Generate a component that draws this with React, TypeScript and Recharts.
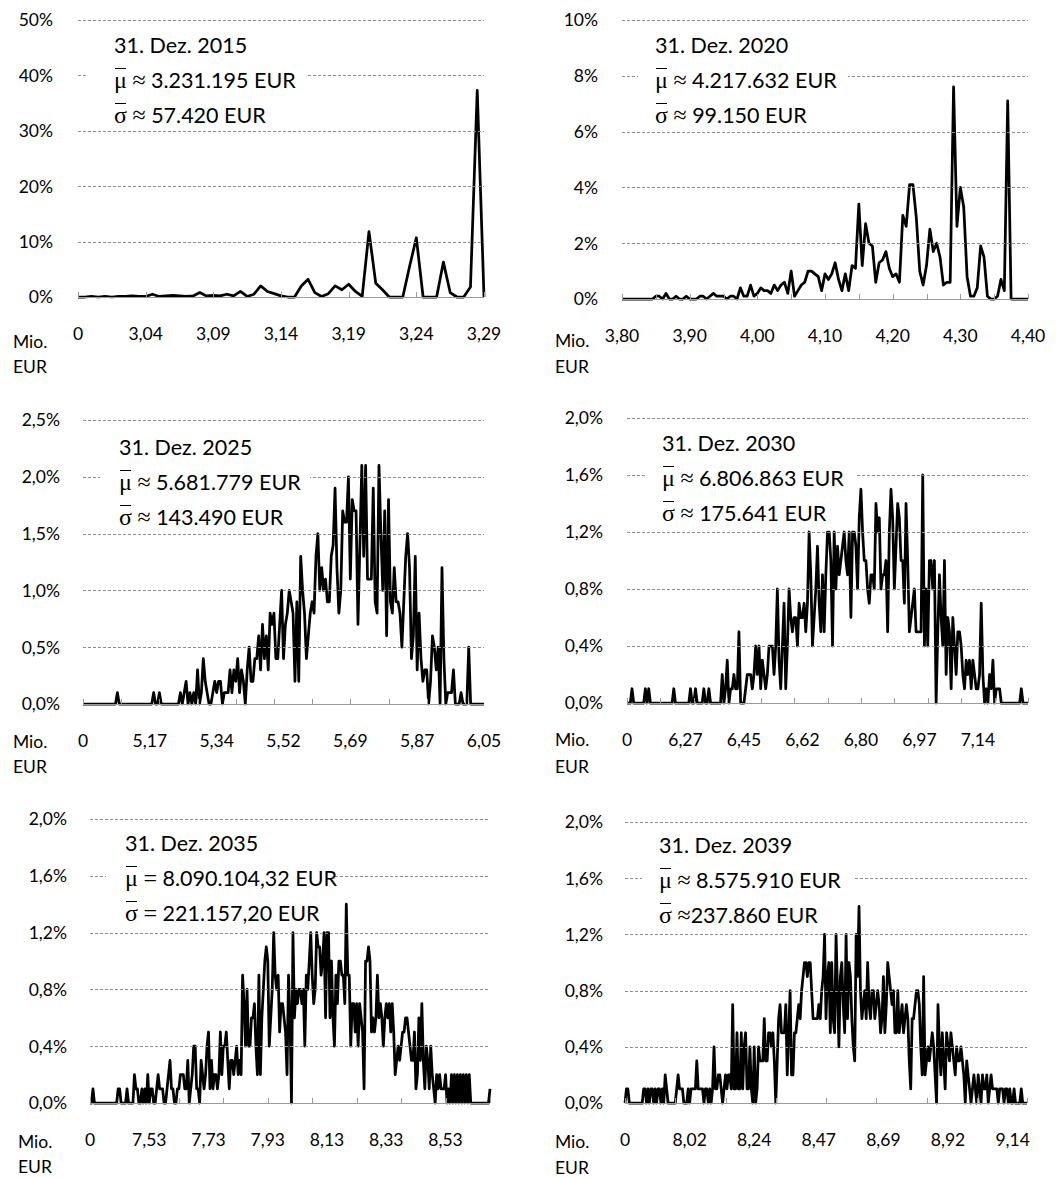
import * as React from "react";
import { Line, LineChart, XAxis, YAxis } from "recharts";

const TEXT_FONT = "Lato, 'Open Sans', sans-serif";
const MATH_FONT = "'Liberation Serif', 'DejaVu Serif', serif";
const GRID_COLOR = "#8c8c8c";
const AXIS_COLOR = "#9a9a9a";

// share of simulation runs per wealth bin, in percent
const share2015 = [
  0, 0, 0.1, 0, 0.1, 0, 0.1, 0.1, 0.2, 0.1,
  0.1, 0.5, 0.1, 0.2, 0.3, 0.2, 0.1, 0.2, 0.8, 0.2,
  0.3, 0.2, 0.5, 0.2, 1.0, 0.1, 0.5, 2.0, 1.0, 0.6,
  0.2, 0, 0, 2.0, 3.2, 0.8, 0.1, 0.6, 2.0, 1.3,
  2.3, 1.0, 0.1, 11.8, 2.5, 1.3, 0, 0, 0, 5.5,
  10.7, 0, 0, 0, 6.3, 0.8, 0, 0, 1.8, 37.3,
  0,
];

const share2020 = [
  0, 0, 0, 0, 0, 0, 0, 0, 0, 0,
  0.1, 0.1, 0, 0.2, 0, 0, 0.1, 0, 0, 0.1,
  0, 0, 0, 0.1, 0.1, 0, 0.1, 0.2, 0.1, 0.1,
  0.1, 0, 0.1, 0.1, 0, 0.4, 0.1, 0.1, 0.5, 0.1,
  0.2, 0.4, 0.3, 0.3, 0.2, 0.5, 0.3, 0.5, 0.6, 0.2,
  1.0, 0.1, 0.3, 0.5, 0.6, 1.0, 1.0, 0.9, 0.8, 0.3,
  0.9, 0.7, 0.9, 1.3, 0.7, 0.3, 0.9, 0.3, 1.2, 1.1,
  3.4, 1.2, 2.7, 2.0, 1.9, 0.6, 1.3, 1.4, 1.7, 1.1,
  0.8, 0.9, 0.6, 3.0, 2.6, 4.1, 4.1, 2.9, 1.0, 0.5,
  1.2, 2.5, 1.7, 2.0, 1.5, 0.5, 0.6, 0.6, 7.6, 2.6,
  4.0, 3.3, 0.8, 0.1, 0.1, 0.4, 1.9, 1.5, 0.1, 0,
  0, 0.1, 0.7, 0.3, 7.1, 0, 0, 0, 0, 0,
  0,
];

const share2025 = [
  0, 0, 0, 0, 0, 0, 0, 0, 0, 0,
  0, 0, 0, 0, 0, 0, 0, 0, 0.1, 0,
  0, 0, 0, 0, 0, 0, 0, 0, 0, 0,
  0, 0, 0, 0, 0, 0, 0, 0.1, 0, 0,
  0.1, 0, 0, 0, 0, 0, 0, 0, 0, 0,
  0, 0.1, 0, 0.1, 0.2, 0, 0.1, 0, 0.1, 0,
  0.3, 0, 0.1, 0.4, 0.2, 0.1, 0, 0, 0.1, 0.2,
  0.1, 0.2, 0.2, 0, 0.1, 0.1, 0.1, 0.3, 0.1, 0.3,
  0.2, 0.4, 0.1, 0.3, 0.2, 0, 0.3, 0.5, 0.2, 0.2,
  0.4, 0.4, 0.6, 0.3, 0.7, 0.4, 0.6, 0.3, 0.8, 0.7,
  0.8, 0.4, 0.4, 0.7, 1.0, 0.4, 0.7, 0.8, 1.0, 0.9,
  0.8, 0.2, 0.9, 0.2, 1.3, 1.0, 0.8, 0.4, 0.6, 0.8,
  0.9, 0.8, 1.3, 1.5, 1.0, 1.2, 1.0, 1.1, 0.9, 0.9,
  1.3, 1.4, 1.9, 1.2, 0.8, 1.0, 1.7, 1.6, 1.6, 2.0,
  1.1, 1.8, 1.7, 1.7, 0.7, 1.4, 2.1, 1.3, 2.1, 1.1,
  1.1, 1.1, 1.9, 0.9, 0.8, 2.1, 1.5, 1.0, 1.7, 0.6,
  1.8, 0.9, 0.8, 1.2, 0.9, 0.9, 0.8, 0.5, 0.9, 1.3,
  1.5, 1.2, 0.4, 0.6, 1.3, 0.3, 0.8, 0.4, 0.2, 0.3,
  0.3, 0, 0.2, 0.6, 0.5, 0.3, 0.5, 0, 1.2, 0.4,
  0, 0.1, 0.1, 0.1, 0.3, 0, 0, 0, 0.1, 0,
  0, 0, 0.5, 0, 0, 0, 0, 0, 0, 0,
  0,
];

const share2030 = [
  0, 0, 0, 0.1, 0, 0, 0, 0, 0, 0,
  0, 0.1, 0, 0.1, 0, 0, 0, 0, 0, 0,
  0, 0, 0, 0, 0, 0, 0, 0, 0.1, 0,
  0, 0, 0, 0, 0, 0, 0, 0, 0.1, 0,
  0, 0.1, 0, 0, 0, 0, 0.1, 0, 0, 0.1,
  0, 0, 0, 0, 0, 0, 0, 0.2, 0, 0.1,
  0.3, 0, 0.1, 0.1, 0.2, 0.1, 0.1, 0.5, 0, 0,
  0, 0.1, 0.2, 0.2, 0.2, 0.1, 0.2, 0.4, 0.2, 0.4,
  0.1, 0.3, 0.2, 0.1, 0.2, 0.4, 0.4, 0.4, 0.2, 0.4,
  0.8, 0.3, 0.1, 0.4, 0.7, 0.1, 0.4, 0.8, 0.6, 0.5,
  0.6, 0.6, 0.4, 0.7, 0.6, 0.6, 0.7, 0.5, 0.7, 1.2,
  0.9, 0.4, 0.6, 0.8, 1.1, 0.7, 0.5, 0.9, 0.5, 0.9,
  1.2, 1.2, 1.0, 0.4, 1.2, 0.8, 1.1, 0.9, 1.0, 1.1,
  1.2, 1.0, 0.9, 1.2, 0.6, 1.2, 1.2, 1.1, 0.8, 1.3,
  1.5, 1.2, 1.0, 1.0, 0.8, 0.7, 0.9, 0.9, 0.8, 1.4,
  1.2, 1.3, 0.8, 0.9, 0.9, 1.0, 0.5, 1.2, 1.5, 1.3,
  0.8, 1.1, 1.4, 1.3, 1.0, 1.0, 0.7, 1.4, 1.0, 0.5,
  0.6, 0.7, 0.8, 0.5, 0.5, 0.5, 0.5, 1.6, 0.4, 0.8,
  0.4, 1.0, 1.0, 0.8, 1.0, 0, 0.5, 0.9, 0.6, 0.4,
  1.0, 0.2, 0.6, 0.5, 0.1, 0.6, 0.4, 0.2, 0.5, 0.5,
  0.4, 0.2, 0.1, 0.3, 0.2, 0.3, 0.1, 0.3, 0.2, 0.1,
  0.1, 0.2, 0.7, 0.2, 0, 0.1, 0, 0.2, 0.1, 0.3,
  0, 0.1, 0.1, 0.1, 0, 0, 0, 0, 0, 0,
  0, 0, 0, 0, 0, 0, 0.1, 0, 0, 0,
  0,
];

const share2035 = [
  0, 0, 0.1, 0, 0, 0, 0, 0, 0, 0,
  0, 0, 0, 0, 0, 0, 0, 0, 0, 0.1,
  0.1, 0, 0, 0, 0, 0.1, 0, 0, 0, 0,
  0.2, 0.1, 0.1, 0, 0, 0.1, 0, 0.1, 0, 0.2,
  0, 0.1, 0.1, 0, 0, 0.1, 0.2, 0.1, 0.1, 0.1,
  0, 0, 0.1, 0.2, 0.3, 0.1, 0.1, 0, 0, 0.1,
  0.1, 0.2, 0.2, 0.2, 0.1, 0.1, 0.3, 0, 0.1, 0.2,
  0.4, 0.4, 0.1, 0.1, 0, 0.3, 0.2, 0.1, 0.2, 0.4,
  0.5, 0.1, 0.3, 0.1, 0.2, 0.2, 0.1, 0.2, 0.5, 0.2,
  0.4, 0.4, 0.5, 0.3, 0.1, 0.3, 0.3, 0.2, 0.3, 0.4,
  0.2, 0.3, 0.2, 0.9, 0.7, 0.4, 0.8, 0.4, 0.4, 0.6,
  0.6, 0.7, 0.4, 0.2, 0.9, 0.2, 0.6, 0.8, 1.0, 1.1,
  1.0, 0.4, 0.6, 0.8, 1.2, 0.9, 0.8, 0.9, 0.5, 0.7,
  0.7, 0.6, 0.5, 0.2, 0.9, 0.6, 0, 1.2, 0.6, 0.8,
  0.7, 0.8, 0.8, 0.7, 0.8, 0.4, 0.9, 0.8, 1.0, 1.2,
  0.9, 0.7, 0.8, 1.2, 1.1, 1.1, 0.9, 1.0, 1.2, 0.6,
  1.2, 1.2, 0.6, 1.0, 0.6, 0.4, 0.9, 0.7, 1.0, 1.0,
  0.9, 0.9, 0.7, 1.4, 0.9, 0.9, 0.4, 0.7, 0.7, 0.5,
  0.7, 0.4, 0.7, 0.6, 0.5, 0.1, 1.0, 1.0, 1.1, 1.0,
  0.5, 0.6, 0.5, 0.6, 0.9, 0.6, 0.7, 0.6, 0.4, 0.6,
  0.7, 0.6, 0.7, 0.5, 0.7, 0.5, 0.2, 0.3, 0.4, 0.3,
  0.4, 0.5, 0.5, 0.6, 0.6, 0.5, 0.4, 0.3, 0.3, 0.5,
  0.1, 0.2, 0.6, 0.3, 0.7, 0.3, 0.1, 0.4, 0.3, 0.1,
  0.4, 0.2, 0.1, 0, 0.2, 0.1, 0.2, 0.1, 0.1, 0.1,
  0.2, 0, 0.1, 0, 0.2, 0, 0.2, 0, 0.2, 0,
  0.2, 0, 0.2, 0, 0.2, 0, 0.2, 0, 0, 0,
  0, 0, 0, 0, 0, 0, 0, 0, 0, 0,
  0.1,
];

const share2039 = [
  0, 0.1, 0.1, 0, 0, 0, 0, 0, 0, 0,
  0, 0, 0, 0.1, 0.1, 0, 0.1, 0, 0.1, 0.1,
  0, 0.1, 0, 0.1, 0.1, 0, 0.1, 0, 0.2, 0.1,
  0, 0, 0, 0, 0, 0, 0.1, 0.2, 0.1, 0.1,
  0.1, 0, 0, 0, 0.1, 0, 0.1, 0.1, 0.1, 0.1,
  0.3, 0.1, 0.1, 0.1, 0.1, 0, 0.1, 0.1, 0, 0.1,
  0, 0.1, 0.4, 0.1, 0.1, 0.2, 0.2, 0.1, 0, 0.1,
  0.2, 0.1, 0.2, 0.2, 0.1, 0.7, 0.1, 0.1, 0.5, 0.1,
  0.1, 0.5, 0.1, 0.4, 0.5, 0.1, 0.1, 0.4, 0.1, 0,
  0.4, 0, 0.1, 0.4, 0.3, 0.3, 0.3, 0.6, 0.3, 0.3,
  0.5, 0.5, 0.4, 0.5, 0.3, 0, 0.3, 0.6, 0.7, 0.5,
  0.5, 0.5, 0.7, 0.2, 0.5, 0.8, 0.2, 0.2, 0.5, 0.5,
  0.6, 0.7, 0.6, 0.8, 0.9, 1.0, 1.0, 0.9, 1.0, 1.0,
  0.8, 0.6, 0.6, 0.6, 0.6, 0.7, 0.6, 0.8, 0.9, 1.2,
  0.6, 0.9, 1.0, 0.5, 1.0, 0.6, 0.5, 1.2, 0.8, 0.4,
  0.9, 1.0, 0.7, 0.5, 1.2, 0.6, 1.0, 0.9, 0.6, 0.4,
  0.3, 1.2, 0.9, 1.4, 0.8, 0.6, 0.7, 0.8, 0.6, 1.0,
  0.7, 0.6, 0.8, 0.8, 0.6, 0.7, 0.8, 0.7, 0.5, 0.6,
  0.9, 0.5, 0.7, 1.0, 0.9, 0.8, 0.7, 0.8, 0.5, 0.5,
  0.8, 0.5, 0.6, 0.7, 0.5, 0.6, 0.7, 0.6, 0.3, 0.1,
  0.6, 0.6, 0.7, 0.8, 0.8, 0.7, 0.4, 0.2, 0.9, 0.2,
  0.3, 0.4, 0.3, 0.4, 0.5, 0.4, 0.2, 0, 0.7, 0.4,
  0.2, 0.5, 0.3, 0.1, 0.5, 0.4, 0.3, 0.5, 0.4, 0.3,
  0.2, 0.4, 0.3, 0.3, 0.4, 0.3, 0.2, 0, 0.3, 0.2,
  0.1, 0, 0.1, 0.2, 0.1, 0, 0.2, 0.1, 0, 0.2,
  0.1, 0.1, 0.2, 0, 0.1, 0.2, 0.1, 0.1, 0.1, 0.1,
  0, 0.1, 0.1, 0.1, 0, 0.1, 0.1, 0, 0.1, 0,
  0, 0.1, 0, 0, 0, 0, 0.1, 0, 0, 0,
  0,
];

// x axis labels (Mio. EUR), one every `labelEvery` bins
const axis2015 = ["0", "3,04", "3,09", "3,14", "3,19", "3,24", "3,29"];
const axis2020 = ["3,80", "3,90", "4,00", "4,10", "4,20", "4,30", "4,40"];
const axis2025 = ["0", "5,17", "5,34", "5,52", "5,69", "5,87", "6,05"];
const axis2030 = ["0", "6,27", "6,45", "6,62", "6,80", "6,97", "7,14"];
const axis2035 = ["0", "7,53", "7,73", "7,93", "8,13", "8,33", "8,53"];
const axis2039 = ["0", "8,02", "8,24", "8,47", "8,69", "8,92", "9,14"];

// y axis ticks (percent)
const yTicks2015 = [0, 10, 20, 30, 40, 50];
const yTicks2020 = [0, 2, 4, 6, 8, 10];
const yTicks2025 = [0, 0.5, 1.0, 1.5, 2.0, 2.5];
const yTicksLate = [0, 0.4, 0.8, 1.2, 1.6, 2.0];

interface Frame {
  left: number;
  top: number;
  width: number;
  height: number;
  plotL: number;
  plotT: number;
  plotR: number;
  plotB: number;
}

interface Panel {
  id: string;
  share: number[];
  axisLabels: string[];
  labelEvery: number;
  tickEvery: number;
  yTicks: number[];
  yDigits: number;
  yGap: number;
  date: string;
  op: string;
  mean: string;
  sd: string;
  tightSd?: boolean;
  frame: Frame;
  box: { left: number; right: number; text: number; top: number };
  unit: { x: number; mio: number; eur: number };
}

const panels: Panel[] = [
  {
    id: "2015",
    share: share2015,
    axisLabels: axis2015,
    labelEvery: 10,
    tickEvery: 10,
    yTicks: yTicks2015,
    yDigits: 0,
    yGap: 25,
    date: "31. Dez. 2015",
    op: "≈",
    mean: "3.231.195 EUR",
    sd: "57.420 EUR",
    frame: { left: 0, top: 0, width: 530, height: 390, plotL: 78, plotT: 20, plotR: 484, plotB: 297 },
    box: { left: 88, right: 306, text: 114, top: 27.5 },
    unit: { x: 13, mio: 342, eur: 367 },
  },
  {
    id: "2020",
    share: share2020,
    axisLabels: axis2020,
    labelEvery: 20,
    tickEvery: 10,
    yTicks: yTicks2020,
    yDigits: 0,
    yGap: 24,
    date: "31. Dez. 2020",
    op: "≈",
    mean: "4.217.632 EUR",
    sd: "99.150 EUR",
    frame: { left: 530, top: 0, width: 529, height: 390, plotL: 622, plotT: 20, plotR: 1028, plotB: 299 },
    box: { left: 638, right: 848, text: 655, top: 27.5 },
    unit: { x: 555, mio: 341, eur: 367 },
  },
  {
    id: "2025",
    share: share2025,
    axisLabels: axis2025,
    labelEvery: 35,
    tickEvery: 20,
    yTicks: yTicks2025,
    yDigits: 1,
    yGap: 23,
    date: "31. Dez. 2025",
    op: "≈",
    mean: "5.681.779 EUR",
    sd: "143.490 EUR",
    frame: { left: 0, top: 390, width: 530, height: 390, plotL: 83, plotT: 420, plotR: 484, plotB: 704 },
    box: { left: 100, right: 310, text: 119, top: 429.5 },
    unit: { x: 13, mio: 742, eur: 767 },
  },
  {
    id: "2030",
    share: share2030,
    axisLabels: axis2030,
    labelEvery: 35,
    tickEvery: 20,
    yTicks: yTicksLate,
    yDigits: 1,
    yGap: 24,
    date: "31. Dez. 2030",
    op: "≈",
    mean: "6.806.863 EUR",
    sd: "175.641 EUR",
    frame: { left: 530, top: 390, width: 529, height: 390, plotL: 627, plotT: 418, plotR: 1028, plotB: 703 },
    box: { left: 645, right: 857, text: 662, top: 425.5 },
    unit: { x: 555, mio: 740, eur: 767 },
  },
  {
    id: "2035",
    share: share2035,
    axisLabels: axis2035,
    labelEvery: 40,
    tickEvery: 30,
    yTicks: yTicksLate,
    yDigits: 1,
    yGap: 23,
    date: "31. Dez. 2035",
    op: "=",
    mean: "8.090.104,32 EUR",
    sd: "221.157,20 EUR",
    frame: { left: 0, top: 780, width: 530, height: 398, plotL: 90, plotT: 819, plotR: 490, plotB: 1103 },
    box: { left: 106, right: 333, text: 125, top: 825.5 },
    unit: { x: 18, mio: 1142, eur: 1167 },
  },
  {
    id: "2039",
    share: share2039,
    axisLabels: axis2039,
    labelEvery: 45,
    tickEvery: 35,
    yTicks: yTicksLate,
    yDigits: 1,
    yGap: 22,
    date: "31. Dez. 2039",
    op: "≈",
    mean: "8.575.910 EUR",
    sd: "237.860 EUR",
    tightSd: true,
    frame: { left: 530, top: 780, width: 529, height: 398, plotL: 625, plotT: 822, plotR: 1027, plotB: 1103 },
    box: { left: 642, right: 853, text: 659, top: 827.5 },
    unit: { x: 555, mio: 1142, eur: 1168 },
  },
];

// x tick: small gray mark pointing up from the axis, plus the Mio. EUR label
function AxisTick(props: any) {
  const { x, payload, panel, axisY } = props;
  const i = payload.value as number;
  const label = i % panel.labelEvery === 0 ? panel.axisLabels[i / panel.labelEvery] : undefined;
  const mark = i % panel.tickEvery === 0;
  const xx = Math.round(x) + 0.5;
  return (
    <g>
      {mark && <line x1={xx} x2={xx} y1={axisY} y2={axisY - 5} stroke={AXIS_COLOR} strokeWidth={1} />}
      {label !== undefined && (
        <text
          x={x}
          y={axisY + 37}
          dy="0.36em"
          textAnchor="middle"
          fill="#000"
          fontSize={17.5}
          fontFamily={TEXT_FONT}
        >
          {label}
        </text>
      )}
    </g>
  );
}

// y tick: percent label plus a crisp dashed gridline (solid at the 0 line)
function PercentTick(props: any) {
  const { x, y, payload, panel, gridL, gridR } = props;
  const v = payload.value as number;
  const yy = Math.round(y) + 0.5;
  return (
    <g>
      {v > 0 ? (
        <line x1={gridL} x2={gridR} y1={yy} y2={yy} stroke={GRID_COLOR} strokeWidth={1} strokeDasharray="3 2" />
      ) : (
        <line x1={gridL} x2={gridR} y1={yy} y2={yy} stroke={AXIS_COLOR} strokeWidth={1} />
      )}
      <text
        x={x}
        y={y}
        dy="0.36em"
        textAnchor="end"
        fill="#000"
        fontSize={17.5}
        fontFamily={TEXT_FONT}
      >
        {v.toFixed(panel.yDigits).replace(".", ",") + "%"}
      </text>
    </g>
  );
}

function Barred({ ch }: { ch: string }) {
  return (
    <span
      style={{
        position: "relative",
        display: "inline-block",
        fontFamily: MATH_FONT,
        fontSize: 24,
        lineHeight: 1,
      }}
    >
      {ch}
      <span
        style={{
          position: "absolute",
          left: 0.5,
          right: 0.5,
          top: 0,
          borderTop: "1.5px solid #000",
        }}
      />
    </span>
  );
}

function Op({ op }: { op: string }) {
  return <span style={{ fontFamily: MATH_FONT, fontSize: 24, lineHeight: 1 }}>{op}</span>;
}

function HistogramPanel({ panel }: { panel: Panel }) {
  const f = panel.frame;
  const n = panel.share.length;
  const rows = panel.share.map((v, i) => ({ i, v }));
  const xTicks: number[] = [];
  for (let i = 0; i < n; i++) {
    if (i % panel.labelEvery === 0 || i % panel.tickEvery === 0) xTicks.push(i);
  }
  const axisY = f.plotB - f.top;
  const gridL = f.plotL - f.left;
  const gridR = f.plotR - f.left;
  const yMax = panel.yTicks[panel.yTicks.length - 1];

  return (
    <div style={{ position: "absolute", left: f.left, top: f.top }}>
      <LineChart
        width={f.width}
        height={f.height}
        data={rows}
        margin={{ top: f.plotT - f.top, right: f.left + f.width - f.plotR, bottom: 0, left: 0 }}
      >
        <XAxis
          type="number"
          dataKey="i"
          domain={[0, n - 1]}
          ticks={xTicks}
          interval={0}
          height={f.top + f.height - f.plotB}
          axisLine={false}
          tickLine={false}
          tick={(t: any) => <AxisTick {...t} panel={panel} axisY={axisY} />}
        />
        <YAxis
          type="number"
          domain={[0, yMax]}
          ticks={panel.yTicks}
          interval={0}
          width={f.plotL - f.left}
          axisLine={false}
          tickLine={false}
          tickSize={0}
          tickMargin={panel.yGap}
          tick={(t: any) => <PercentTick {...t} panel={panel} gridL={gridL} gridR={gridR} />}
        />
        <Line
          type="linear"
          dataKey="v"
          stroke="#000"
          strokeWidth={2.75}
          strokeLinejoin="round"
          dot={false}
          activeDot={false}
          isAnimationActive={false}
        />
      </LineChart>
    </div>
  );
}

function Annotation({ panel }: { panel: Panel }) {
  const b = panel.box;
  return (
    <div
      style={{
        position: "absolute",
        left: b.left,
        top: b.top,
        width: b.right - b.left,
        height: 98,
        paddingLeft: b.text - b.left,
        boxSizing: "border-box",
        background: "#fff",
        fontFamily: TEXT_FONT,
        fontSize: 21.5,
        lineHeight: "35px",
        color: "#000",
        whiteSpace: "nowrap",
      }}
    >
      <div>{panel.date}</div>
      <div>
        <Barred ch="μ" /> <Op op={panel.op} /> {panel.mean}
      </div>
      <div>
        <Barred ch="σ" /> <Op op={panel.op} />
        {panel.tightSd ? "" : " "}
        {panel.sd}
      </div>
    </div>
  );
}

function UnitLabel({ panel }: { panel: Panel }) {
  const base: React.CSSProperties = {
    position: "absolute",
    left: panel.unit.x,
    fontFamily: TEXT_FONT,
    fontSize: 17.5,
    lineHeight: "20px",
    color: "#000",
  };
  return (
    <>
      <div style={{ ...base, top: panel.unit.mio - 10 }}>Mio.</div>
      <div style={{ ...base, top: panel.unit.eur - 10 }}>EUR</div>
    </>
  );
}

export default function App() {
  return (
    <div
      style={{
        position: "absolute",
        left: 0,
        top: 0,
        width: 1059,
        height: 1178,
        background: "#fff",
        overflow: "hidden",
      }}
    >
      {panels.map((p) => (
        <HistogramPanel key={p.id} panel={p} />
      ))}
      {panels.map((p) => (
        <Annotation key={"a" + p.id} panel={p} />
      ))}
      {panels.map((p) => (
        <UnitLabel key={"u" + p.id} panel={p} />
      ))}
    </div>
  );
}
